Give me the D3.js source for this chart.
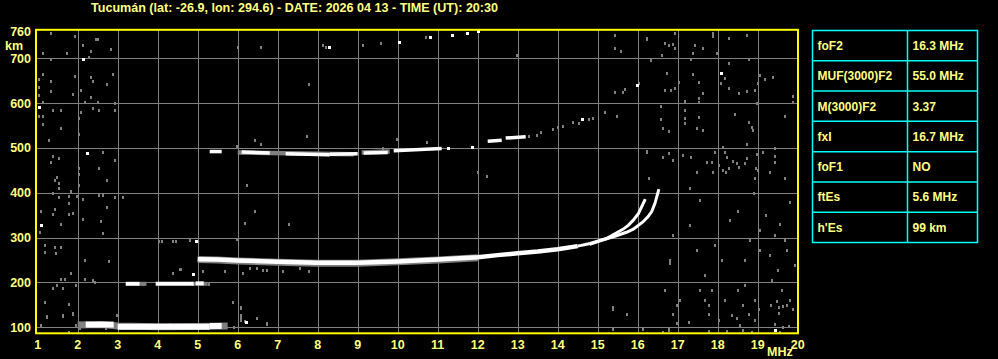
<!DOCTYPE html>
<html>
<head>
<meta charset="utf-8">
<script src="https://cdn.jsdelivr.net/npm/d3@7"></script>
<style>
  body { margin: 0; background: #000; }
  svg { display: block; }
  text { font-family: "Liberation Sans", Arial, sans-serif; font-weight: bold; fill: #ffff80; }
</style>
</head>
<body>
<svg id="chart" width="998" height="359"></svg>
<script>
// ---- data ----
const title = "Tucumán (lat: -26.9, lon: 294.6) - DATE: 2026 04 13 - TIME (UT): 20:30";
const freqTicks = [1, 2, 3, 4, 5, 6, 7, 8, 9, 10, 11, 12, 13, 14, 15, 16, 17, 18, 19, 20];
const freqGrid = [2, 3, 4, 5, 6, 7, 8, 9, 10, 11, 12, 13, 14, 15, 16, 17, 18, 19];
const kmTicks = [100, 200, 300, 400, 500, 600, 700];
const kmTop = 760;

const tableLabels = ["foF2", "MUF(3000)F2", "M(3000)F2", "fxI", "foF1", "ftEs", "h'Es"];
const tableValues = ["16.3 MHz", "55.0 MHz", "3.37", "16.7 MHz", "NO", "5.6 MHz", "99 km"];

// echo traces [MHz, km]
const fTrace = [[5.0, 252], [5.5, 251], [6, 249], [7, 246], [8, 244], [9, 244], [10, 247], [11, 251],
  [12, 256], [12.5, 261], [13, 265], [13.5, 269], [14, 274], [14.5, 281]];
const fHalo = [[5.0, 251], [5.5, 250], [6, 248], [7, 245], [8, 243], [9, 243], [10, 246], [11, 250], [12, 255]];
const oCusp = [[14.5, 281], [14.81, 287], [15.22, 298], [15.52, 313], [15.64, 319], [15.77, 328],
  [15.89, 339], [16.02, 354], [16.19, 386]];
const xCusp = [[14.8, 285], [15.06, 293], [15.39, 302], [15.72, 312], [15.89, 319], [16.13, 335],
  [16.26, 347], [16.35, 358], [16.43, 376], [16.53, 408]];

const esHalo = [[[2.0, 105], [2.6, 106], [3.0, 103], [4.0, 101], [5.0, 102], [5.75, 103]]];
const esTrace = [[[2.2, 106], [2.9, 106]], [[3.0, 101], [5.3, 101]], [[5.3, 103], [5.6, 103]]];
const es2Halo = [[[3.55, 197], [3.72, 197]], [[4.85, 197], [5.25, 197]]];
const es2Trace = [[[3.2, 197], [3.55, 197]], [[3.95, 197], [4.9, 197]], [[4.95, 198], [5.15, 198]]];

const f2Halo = [[[6.0, 490], [8.9, 486]], [[9.1, 490], [9.8, 492]]];
const f2Trace = [[[5.3, 492], [5.6, 492]], [[6.1, 491], [6.8, 489]], [[7.2, 487], [8.3, 485]],
  [[8.3, 486], [9.0, 487]], [[9.15, 489], [9.75, 490]], [[9.9, 494], [11.1, 499]],
  [[12.25, 515], [12.6, 517]], [[12.7, 522], [13.2, 525]]];

const noiseWhite = [[2.12, 698], [1.03, 591], [2.22, 489], [1.08, 328], [4.96, 293], [4.87, 220],
  [6.21, 112], [18.08, 668], [19.43, 94], [10.02, 737], [11.35, 752], [11.72, 757], [8.27, 726],
  [15.97, 640], [14.6, 564], [10.8, 747], [12.0, 760], [11.26, 500], [11.86, 503]];

const noiseGray = [
  [1.32, 756], [1.93, 750], [2.46, 744], [2.5, 744], [2.14, 730], [2.83, 721], [1.14, 712], [1.72, 712],
  [2.33, 716], [2.28, 703], [1.33, 698], [1.12, 665], [1.93, 661], [2.33, 659], [2.87, 665], [1.33, 650],
  [1.02, 653], [2.37, 650], [2.72, 643], [1.02, 635], [2.07, 629], [1.33, 627], [1.87, 620], [1.02, 618],
  [2.32, 614], [1.12, 603], [2.18, 603], [2.51, 603], [2.93, 601], [1.37, 585], [1.58, 585], [2.07, 581],
  [2.37, 590], [2.53, 585], [2.93, 585], [1.03, 571], [1.12, 571], [2.03, 567], [1.12, 553], [1.58, 545],
  [2.03, 531], [1.28, 518], [6.43, 518], [6.58, 509], [7.72, 527], [7.77, 643], [6.01, 726], [6.58, 726],
  [5.97, 504], [2.62, 491], [1.37, 482], [1.53, 478], [1.33, 469], [2.93, 473], [2.03, 456], [2.53, 456],
  [2.02, 443], [1.47, 436], [2.72, 428], [1.43, 428], [1.53, 421], [1.52, 410], [2.03, 417], [6.24, 417],
  [1.83, 404], [1.37, 399], [1.78, 393], [1.98, 393], [2.53, 395], [2.62, 395], [2.93, 391], [3.12, 391],
  [1.53, 391], [1.78, 377], [2.12, 386], [2.72, 369], [1.08, 360], [1.43, 364], [1.89, 356], [1.78, 352],
  [1.37, 352], [6.43, 360], [2.12, 341], [2.57, 338], [1.58, 330], [6.17, 333], [7.27, 330],
  [1.06, 313], [2.62, 311], [1.17, 283], [1.43, 280], [1.58, 280], [1.46, 266], [1.17, 269], [2.18, 250],
  [2.79, 248], [4.02, 293], [4.1, 293], [4.39, 293], [4.45, 293], [4.81, 295], [5.97, 298], [1.83, 222],
  [1.58, 208], [1.68, 208], [1.37, 187], [1.62, 187], [1.47, 194], [2.18, 207], [2.39, 205], [2.43, 200],
  [1.96, 194], [4.56, 230], [5.12, 226], [5.68, 226], [6.12, 222], [6.31, 232], [6.47, 232], [6.64, 228],
  [6.72, 228], [4.39, 222], [4.57, 230], [7.12, 226], [7.56, 232], [7.77, 226], [1.18, 157], [1.79, 152],
  [1.87, 131], [1.64, 125], [1.22, 125], [5.87, 157], [6.07, 142], [6.07, 124], [6.47, 120], [6.72, 107],
  [1.22, 124], [1.62, 127], [1.78, 152], [1.87, 130], [1.08, 105], [1.78, 90], [2.97, 127], [5.89, 157],
  [6.08, 145], [6.08, 127], [6.08, 116], [6.18, 115], [6.47, 120], [6.72, 109],
  [1.95, 106], [2.05, 99], [2.7, 99], [3.4, 108], [4.3, 108], [5.0, 108], [5.7, 102], [5.9, 101],
  [3.62, 197], [3.68, 199], [5.2, 199], [5.27, 196],
  [8.14, 730], [8.2, 726], [9.12, 730], [9.58, 735], [10.7, 747], [12.97, 707], [15.43, 752], [16.22, 745],
  [15.43, 722], [15.58, 716], [16.03, 644], [15.43, 624], [15.64, 625], [15.68, 631], [15.18, 581],
  [15.47, 572], [14.87, 567], [14.77, 564], [14.53, 556], [14.39, 558], [14.12, 549], [14.01, 546],
  [13.87, 542], [13.57, 536], [13.47, 530], [13.29, 527], [9.97, 520], [10.72, 514], [9.64, 499],
  [12.01, 447], [12.22, 438], [16.22, 492], [16.28, 434],
  [16.94, 757], [17.87, 756], [17.87, 750], [16.22, 744], [18.27, 745], [18.73, 752], [16.68, 735],
  [16.77, 730], [16.89, 733], [16.94, 722], [17.44, 730], [17.63, 724], [17.39, 712], [16.6, 707],
  [17.97, 712], [16.33, 696], [17.33, 698], [18.77, 698], [18.27, 690], [16.72, 668], [17.37, 664],
  [18.08, 645], [18.18, 655], [17.02, 648], [19.06, 663], [19.18, 654], [19.37, 659], [19.01, 644],
  [17.54, 648], [16.68, 629], [16.83, 629], [16.94, 633], [17.63, 622], [18.27, 634], [18.53, 622],
  [18.73, 627], [18.94, 629], [17.18, 605], [17.54, 611], [17.54, 603], [18.97, 601], [19.88, 616],
  [19.88, 603], [16.58, 594], [17.18, 585], [18.43, 576], [16.58, 565], [17.18, 566], [17.18, 555],
  [17.54, 570], [18.77, 558], [18.85, 547], [18.89, 540], [19.68, 571], [16.62, 545], [16.78, 538],
  [17.49, 544], [17.63, 540], [18.73, 509], [16.22, 494], [16.62, 480], [16.77, 488], [16.89, 473],
  [17.12, 484], [17.33, 480], [17.47, 447], [17.72, 469], [17.85, 469], [17.93, 492], [18.02, 462],
  [18.12, 503], [18.18, 492], [18.24, 479], [18.14, 451], [18.29, 455], [18.39, 471], [18.49, 466],
  [18.52, 458], [18.73, 477], [18.69, 466], [18.98, 486], [18.96, 455], [19.13, 492], [19.43, 501],
  [19.43, 482], [19.43, 469], [19.01, 451], [19.31, 447], [19.68, 432], [18.93, 432], [16.27, 434],
  [17.87, 447], [18.2, 447],
  [16.81, 250], [16.81, 244], [16.89, 306], [17.56, 183], [17.68, 217], [17.93, 284], [18.11, 250],
  [18.51, 183], [18.68, 250], [18.81, 295], [19.06, 317], [19.31, 261], [19.43, 306], [19.51, 228],
  [19.61, 183], [19.73, 272], [19.81, 161], [19.93, 239], [18.93, 161], [18.31, 339], [17.56, 384],
  [17.31, 328], [17.06, 161], [16.68, 183], [19.06, 272], [19.36, 206], [19.68, 295], [18.68, 194],
  [17.86, 183], [18.18, 161], [17.49, 272], [19.2, 350], [19.8, 380], [18.9, 400], [17.3, 410],
  [19.55, 330], [18.5, 360],
  [15.37, 146], [15.37, 140], [15.72, 130], [16.97, 150], [16.87, 130], [16.97, 109], [17.27, 112],
  [17.68, 161], [17.77, 150], [17.77, 130], [18.04, 116], [18.35, 127], [18.47, 120], [18.56, 105],
  [18.62, 150], [18.77, 130], [18.93, 116], [19.02, 140], [19.33, 150], [19.47, 159], [19.54, 146],
  [19.64, 147], [19.74, 150], [19.89, 140], [19.54, 131], [19.43, 107], [19.64, 101], [19.77, 103],
  [19.56, 90], [16.64, 90], [16.77, 94], [16.77, 98], [18.22, 92], [17.77, 92], [16.14, 96], [15.39, 96],
  [18.62, 94], [18.85, 90]
];

// ---- layout ----
const svg = d3.select("#chart");
const x = d3.scaleLinear().domain([1, 20]).range([37.7, 797.7]);
const y = d3.scaleLinear().domain([100, 700]).range([327.3, 58.3]);
const plot = { left: 36, top: 29.8, right: 798, bottom: 333.3 };

svg.append("rect").attr("width", 998).attr("height", 359).attr("fill", "#000");

// title
svg.append("text")
  .attr("x", 91).attr("y", 11.5)
  .attr("font-size", 12)
  .attr("textLength", 407).attr("lengthAdjust", "spacingAndGlyphs")
  .text(title);

// grid
const grid = svg.append("g").attr("stroke", "#808080").attr("stroke-width", 1);
grid.selectAll("line.v").data(freqGrid).enter().append("line")
  .attr("x1", d => Math.round(x(d)) + 0.5).attr("x2", d => Math.round(x(d)) + 0.5)
  .attr("y1", plot.top).attr("y2", plot.bottom);
grid.selectAll("line.h").data(kmTicks).enter().append("line")
  .attr("x1", plot.left).attr("x2", plot.right)
  .attr("y1", d => Math.round(y(d)) + 0.5).attr("y2", d => Math.round(y(d)) + 0.5);

// noise
const px = d => Math.round(x(d[0])) - 1;
const py = d => Math.round(y(d[1])) - 1;
svg.append("g").selectAll("rect").data(noiseGray).enter().append("rect")
  .attr("x", px).attr("y", py).attr("width", 2).attr("height", 3).attr("fill", "#808080");

// traces
const line = d3.line().x(d => x(d[0])).y(d => y(d[1]));
function drawSegs(segs, color, width) {
  svg.append("g").selectAll("path").data(segs).enter().append("path")
    .attr("d", line).attr("fill", "none")
    .attr("stroke", color).attr("stroke-width", width).attr("stroke-linecap", "butt");
}
drawSegs(esHalo, "#808080", 7);
drawSegs(esTrace, "#fff", 6);
drawSegs(es2Halo, "#808080", 4);
drawSegs(es2Trace, "#fff", 4);
drawSegs(f2Halo, "#808080", 4.5);
drawSegs(f2Trace, "#fff", 3.5);
drawSegs([fHalo], "#808080", 7);
drawSegs([fTrace], "#fff", 4.5);
drawSegs([oCusp], "#fff", 3);
drawSegs([xCusp], "#fff", 3);

svg.append("g").selectAll("rect").data(noiseWhite).enter().append("rect")
  .attr("x", px).attr("y", py).attr("width", 3).attr("height", 3).attr("fill", "#fff");

// frame
svg.append("rect")
  .attr("x", plot.left).attr("y", plot.top)
  .attr("width", plot.right - plot.left).attr("height", plot.bottom - plot.top)
  .attr("fill", "none").attr("stroke", "#ffff00").attr("stroke-width", 2);

// axis labels
svg.append("g").selectAll("text").data(kmTicks).enter().append("text")
  .attr("x", 31).attr("y", d => y(d)).attr("dy", "0.36em")
  .attr("text-anchor", "end").attr("font-size", 12.5).text(d => d);
svg.append("text").attr("x", 31).attr("y", y(kmTop)).attr("dy", "0.36em")
  .attr("text-anchor", "end").attr("font-size", 12.5).text(kmTop);
svg.append("text").attr("x", 14).attr("y", 45).attr("dy", "0.36em")
  .attr("text-anchor", "middle").attr("font-size", 12.5).text("km");

svg.append("g").selectAll("text").data(freqTicks).enter().append("text")
  .attr("x", d => x(d)).attr("y", 344.5).attr("dy", "0.36em")
  .attr("text-anchor", "middle").attr("font-size", 12.5).text(d => d);
svg.append("text").attr("x", 767).attr("y", 355.5)
  .attr("font-size", 12.5).text("MHz");

// parameter table
const tbl = { left: 812.5, right: 977.5, top: 30.5, bottom: 242.5, split: 907.5 };
const rowY = d3.scaleLinear().domain([0, tableLabels.length]).range([tbl.top, tbl.bottom]);
const tg = svg.append("g");
tg.append("rect")
  .attr("x", tbl.left).attr("y", tbl.top)
  .attr("width", tbl.right - tbl.left).attr("height", tbl.bottom - tbl.top)
  .attr("fill", "none").attr("stroke", "#00ffff").attr("stroke-width", 1.5);
tg.append("line").attr("x1", tbl.split).attr("x2", tbl.split)
  .attr("y1", tbl.top).attr("y2", tbl.bottom).attr("stroke", "#00ffff").attr("stroke-width", 1.5);
tg.selectAll("line.row").data(d3.range(1, tableLabels.length)).enter().append("line")
  .attr("x1", tbl.left).attr("x2", tbl.right)
  .attr("y1", d => rowY(d)).attr("y2", d => rowY(d))
  .attr("stroke", "#00ffff").attr("stroke-width", 1.5);
tg.selectAll("text.lab").data(tableLabels).enter().append("text")
  .attr("x", 817.5).attr("y", (d, i) => rowY(i + 0.5)).attr("dy", "0.36em")
  .attr("font-size", 12).text(d => d);
tg.selectAll("text.val").data(tableValues).enter().append("text")
  .attr("x", 912.5).attr("y", (d, i) => rowY(i + 0.5)).attr("dy", "0.36em")
  .attr("font-size", 12).text(d => d);
</script>
</body>
</html>
